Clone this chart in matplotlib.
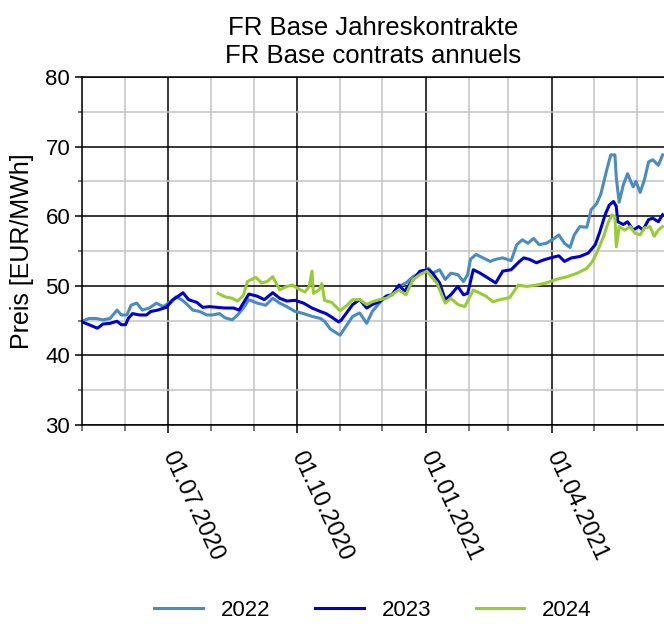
#!/usr/bin/env python3
"""FR Base Jahreskontrakte / contrats annuels - Cal-22/23/24 prices."""

import matplotlib

matplotlib.use("Agg")
import matplotlib.dates as mdates
import matplotlib.pyplot as plt
import pandas as pd
from matplotlib.ticker import MultipleLocator

# values (EUR/MWh)
CAL_2022 = [
    ("2020-05-01", 44.9), ("2020-05-06", 45.3), ("2020-05-11", 45.3),
    ("2020-05-16", 45.1), ("2020-05-21", 45.3), ("2020-05-26", 46.5),
    ("2020-05-29", 45.8), ("2020-06-02", 45.8), ("2020-06-05", 47.2),
    ("2020-06-09", 47.5), ("2020-06-13", 46.5), ("2020-06-18", 46.8),
    ("2020-06-23", 47.5), ("2020-06-28", 47.0), ("2020-07-03", 47.7),
    ("2020-07-07", 48.4), ("2020-07-11", 48.0), ("2020-07-14", 47.5),
    ("2020-07-19", 46.5), ("2020-07-24", 46.3), ("2020-07-29", 45.8),
    ("2020-08-02", 45.8), ("2020-08-07", 46.0), ("2020-08-11", 45.4),
    ("2020-08-16", 45.1), ("2020-08-20", 45.8), ("2020-08-24", 46.8),
    ("2020-08-28", 48.0), ("2020-09-03", 47.5), ("2020-09-09", 47.2),
    ("2020-09-14", 48.2), ("2020-09-19", 47.5), ("2020-09-24", 47.0),
    ("2020-09-30", 46.3), ("2020-10-06", 46.0), ("2020-10-12", 45.6),
    ("2020-10-18", 45.3), ("2020-10-21", 44.9), ("2020-10-25", 43.8),
    ("2020-10-28", 43.4), ("2020-11-01", 42.9), ("2020-11-06", 44.4),
    ("2020-11-10", 45.6), ("2020-11-15", 46.1), ("2020-11-20", 44.6),
    ("2020-11-24", 46.3), ("2020-11-29", 47.5), ("2020-12-04", 48.5),
    ("2020-12-08", 48.7), ("2020-12-13", 49.9), ("2020-12-18", 50.4),
    ("2020-12-23", 51.3), ("2020-12-28", 51.8), ("2021-01-03", 52.5),
    ("2021-01-06", 51.8), ("2021-01-11", 52.3), ("2021-01-15", 50.9),
    ("2021-01-19", 51.8), ("2021-01-24", 51.6), ("2021-01-28", 50.6),
    ("2021-01-31", 51.6), ("2021-02-02", 53.8), ("2021-02-06", 54.5),
    ("2021-02-11", 54.0), ("2021-02-16", 53.5), ("2021-02-20", 53.8),
    ("2021-02-25", 54.0), ("2021-03-03", 53.6), ("2021-03-07", 55.9),
    ("2021-03-11", 56.6), ("2021-03-15", 56.1), ("2021-03-19", 56.8),
    ("2021-03-23", 55.9), ("2021-03-28", 56.1), ("2021-04-02", 56.7),
    ("2021-04-06", 57.3), ("2021-04-10", 56.1), ("2021-04-14", 55.5),
    ("2021-04-17", 57.3), ("2021-04-21", 58.5), ("2021-04-26", 58.4),
    ("2021-04-29", 60.9), ("2021-05-03", 61.8), ("2021-05-06", 63.2),
    ("2021-05-10", 66.5), ("2021-05-13", 68.8), ("2021-05-16", 68.8),
    ("2021-05-17", 65.5), ("2021-05-19", 62.0), ("2021-05-22", 64.5),
    ("2021-05-25", 66.1), ("2021-05-29", 64.2), ("2021-05-31", 65.0),
    ("2021-06-03", 63.4), ("2021-06-06", 65.2), ("2021-06-09", 67.8),
    ("2021-06-12", 68.1), ("2021-06-16", 67.3), ("2021-06-19", 68.8),
]

CAL_2023 = [
    ("2020-05-01", 44.8), ("2020-05-06", 44.4), ("2020-05-12", 43.9),
    ("2020-05-16", 44.5), ("2020-05-21", 44.6), ("2020-05-26", 44.9),
    ("2020-05-29", 44.4), ("2020-06-01", 44.4), ("2020-06-03", 45.3),
    ("2020-06-06", 46.0), ("2020-06-11", 45.8), ("2020-06-16", 45.8),
    ("2020-06-19", 46.3), ("2020-06-24", 46.5), ("2020-06-30", 46.9),
    ("2020-07-05", 48.0), ("2020-07-10", 48.7), ("2020-07-12", 49.0),
    ("2020-07-16", 48.0), ("2020-07-22", 47.6), ("2020-07-26", 46.9),
    ("2020-07-31", 47.0), ("2020-08-05", 46.9), ("2020-08-11", 46.8),
    ("2020-08-17", 46.8), ("2020-08-21", 46.5), ("2020-08-24", 47.5),
    ("2020-08-28", 48.8), ("2020-09-03", 48.5), ("2020-09-08", 48.0),
    ("2020-09-14", 49.0), ("2020-09-19", 48.2), ("2020-09-24", 47.8),
    ("2020-09-30", 47.9), ("2020-10-06", 47.5), ("2020-10-12", 46.8),
    ("2020-10-18", 46.3), ("2020-10-22", 46.0), ("2020-10-26", 45.5),
    ("2020-10-31", 44.8), ("2020-11-02", 45.1), ("2020-11-06", 46.2),
    ("2020-11-10", 47.3), ("2020-11-15", 48.0), ("2020-11-20", 46.8),
    ("2020-11-24", 47.3), ("2020-11-29", 47.7), ("2020-12-04", 48.5),
    ("2020-12-08", 48.7), ("2020-12-13", 50.1), ("2020-12-17", 49.2),
    ("2020-12-22", 50.6), ("2020-12-28", 52.1), ("2021-01-03", 52.3),
    ("2021-01-06", 51.8), ("2021-01-11", 50.4), ("2021-01-15", 48.0),
    ("2021-01-19", 48.7), ("2021-01-24", 49.9), ("2021-01-28", 48.7),
    ("2021-01-31", 48.9), ("2021-02-04", 52.3), ("2021-02-09", 51.8),
    ("2021-02-13", 51.3), ("2021-02-20", 50.4), ("2021-02-25", 52.1),
    ("2021-03-03", 52.3), ("2021-03-09", 53.5), ("2021-03-12", 54.0),
    ("2021-03-16", 53.8), ("2021-03-21", 53.3), ("2021-03-26", 53.7),
    ("2021-03-31", 54.0), ("2021-04-06", 54.3), ("2021-04-10", 53.5),
    ("2021-04-15", 54.0), ("2021-04-21", 54.2), ("2021-04-27", 54.7),
    ("2021-05-02", 55.9), ("2021-05-05", 57.6), ("2021-05-09", 60.2),
    ("2021-05-12", 61.6), ("2021-05-15", 62.1), ("2021-05-17", 61.4),
    ("2021-05-18", 59.2), ("2021-05-22", 58.8), ("2021-05-25", 59.2),
    ("2021-05-29", 58.0), ("2021-06-02", 58.5), ("2021-06-05", 58.0),
    ("2021-06-09", 59.5), ("2021-06-12", 59.7), ("2021-06-16", 59.2),
    ("2021-06-19", 60.2),
]

CAL_2024 = [
    ("2020-08-06", 48.9), ("2020-08-11", 48.4), ("2020-08-16", 48.2),
    ("2020-08-20", 47.8), ("2020-08-24", 48.6), ("2020-08-27", 50.6),
    ("2020-09-02", 51.2), ("2020-09-06", 50.4), ("2020-09-10", 50.6),
    ("2020-09-14", 51.3), ("2020-09-19", 49.4), ("2020-09-24", 49.9),
    ("2020-09-28", 50.1), ("2020-10-02", 49.6), ("2020-10-07", 49.1),
    ("2020-10-10", 49.9), ("2020-10-12", 52.1), ("2020-10-13", 48.9),
    ("2020-10-17", 49.4), ("2020-10-19", 50.3), ("2020-10-21", 47.9),
    ("2020-10-26", 47.6), ("2020-11-01", 46.4), ("2020-11-06", 47.2),
    ("2020-11-10", 48.0), ("2020-11-15", 48.0), ("2020-11-20", 47.3),
    ("2020-11-24", 47.7), ("2020-11-29", 48.0), ("2020-12-04", 48.2),
    ("2020-12-08", 48.7), ("2020-12-13", 49.4), ("2020-12-18", 48.7),
    ("2020-12-23", 50.9), ("2020-12-28", 51.6), ("2021-01-02", 52.1),
    ("2021-01-05", 51.3), ("2021-01-09", 50.4), ("2021-01-15", 47.5),
    ("2021-01-19", 48.2), ("2021-01-24", 47.3), ("2021-01-29", 47.0),
    ("2021-02-01", 48.2), ("2021-02-04", 49.4), ("2021-02-09", 48.9),
    ("2021-02-13", 48.5), ("2021-02-18", 47.7), ("2021-02-23", 48.0),
    ("2021-03-02", 48.3), ("2021-03-08", 50.1), ("2021-03-14", 49.9),
    ("2021-03-21", 50.1), ("2021-03-28", 50.4), ("2021-04-04", 50.9),
    ("2021-04-12", 51.3), ("2021-04-19", 51.8), ("2021-04-26", 52.5),
    ("2021-04-30", 53.5), ("2021-05-03", 54.7), ("2021-05-08", 57.1),
    ("2021-05-11", 59.0), ("2021-05-14", 60.2), ("2021-05-16", 59.9),
    ("2021-05-17", 55.6), ("2021-05-19", 58.5), ("2021-05-23", 58.0),
    ("2021-05-27", 58.5), ("2021-05-30", 57.6), ("2021-06-03", 57.3),
    ("2021-06-06", 58.3), ("2021-06-10", 58.5), ("2021-06-13", 57.1),
    ("2021-06-16", 58.0), ("2021-06-19", 58.5),
]

SERIES = [("2022", CAL_2022, "#4a8bc2"),
          ("2023", CAL_2023, "#0000cc"),
          ("2024", CAL_2024, "#99cc33")]

X_START = "2020-05-01"
X_END = "2021-06-20"


def main() -> None:
    plt.rcParams["font.family"] = ["Liberation Sans", "DejaVu Sans"]

    fig = plt.figure(figsize=(6.64, 6.24), dpi=100)
    ax = fig.add_axes([0.1235, 0.319, 0.8765, 0.5577])

    for label, rows, color in SERIES:
        dates = pd.to_datetime([d for d, _ in rows])
        vals = [v for _, v in rows]
        ax.plot(dates, vals, color=color, linewidth=2.2, label=label,
                solid_joinstyle="round")

    ax.set_xlim(pd.Timestamp(X_START), pd.Timestamp(X_END))
    ax.set_ylim(30, 80)

    ax.xaxis.set_major_locator(mdates.MonthLocator(bymonth=[1, 4, 7, 10]))
    ax.xaxis.set_minor_locator(mdates.MonthLocator())
    ax.xaxis.set_major_formatter(mdates.DateFormatter("%d.%m.%Y"))
    ax.yaxis.set_major_locator(MultipleLocator(10))
    ax.yaxis.set_minor_locator(MultipleLocator(5))

    ax.set_axisbelow(True)
    ax.grid(which="major", color="black", linewidth=1.1)
    ax.grid(which="minor", color="#c4c4c4", linewidth=1.1)

    ax.tick_params(axis="both", which="major", direction="out", length=5,
                   width=1.1, labelsize=16, color="black")
    ax.tick_params(axis="both", which="minor", direction="out", length=3,
                   width=1.1, color="#555555")
    ax.tick_params(axis="x", which="major", length=6, pad=14, labelsize=17)
    ax.tick_params(axis="x", which="minor", length=4.5)

    for lab in ax.get_xticklabels():
        lab.set_rotation(-65)
        lab.set_rotation_mode("anchor")
        lab.set_ha("left")
        lab.set_va("center")

    for side in ("left", "bottom", "top"):
        ax.spines[side].set_linewidth(1.1)
    ax.spines["right"].set_visible(False)

    ax.set_ylabel("Preis [EUR/MWh]", fontsize=18, labelpad=8)
    ax.set_title("FR Base Jahreskontrakte\nFR Base contrats annuels",
                 fontsize=18.5, pad=10, linespacing=1.2)

    ax.legend(loc="center", bbox_to_anchor=(0.5, -0.532), ncol=3,
              frameon=False, fontsize=16, handlelength=2.2,
              columnspacing=2.0, handletextpad=0.8)

    fig.savefig("out.png", dpi=100)


if __name__ == "__main__":
    main()
